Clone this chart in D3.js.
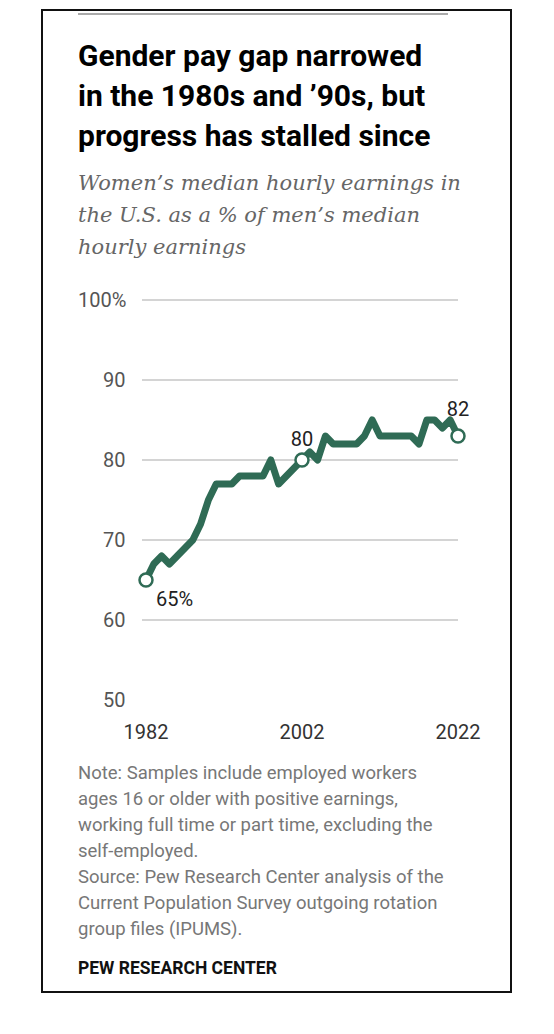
<!DOCTYPE html><html><head><meta charset="utf-8"><script src="https://cdn.jsdelivr.net/npm/d3@7"></script>
<style>body{margin:0;background:#fff}</style></head><body><svg id="c" width="554" height="1034"></svg>
<script>
const years=d3.range(1982,2023);
const values=[65,67,68,67,68,69,70,72,75,77,77,77,78,78,78,78,80,77,78,79,80,81,80,83,82,82,82,82,83,85,83,83,83,83,83,82,85,85,84,85,83];
const yTicks=[50,60,70,80,90,100];
const xTicks=[1982,2002,2022];
const labels=[{year:1982,text:"65%",dx:10,dy:26},{year:2002,text:"80",dx:0,dy:-14},{year:2022,text:"82",dx:0,dy:-20}];
const notes=["Note: Samples include employed workers","ages 16 or older with positive earnings,","working full time or part time, excluding the","self-employed.","Source: Pew Research Center analysis of the","Current Population Survey outgoing rotation","group files (IPUMS)."];
const svg=d3.select("#c");
svg.append("rect").attr("x",42).attr("y",10).attr("width",469).attr("height",982).attr("fill","none").attr("stroke","#111").attr("stroke-width",2);
svg.append("line").attr("x1",78).attr("x2",448).attr("y1",14).attr("y2",14).attr("stroke","#aaa").attr("stroke-width",2);
const t=svg.append("text").attr("font-family","Roboto").attr("font-weight",700).attr("font-size",30).attr("fill","#000");
["Gender pay gap narrowed","in the 1980s and ’90s, but","progress has stalled since"].forEach((s,i)=>t.append("tspan").attr("x",78).attr("y",66+i*40).text(s));
const st=svg.append("text").attr("font-family","DejaVu Serif").attr("font-style","italic").attr("font-size",21).attr("fill","#666");
["Women’s median hourly earnings in","the U.S. as a % of men’s median","hourly earnings"].forEach((s,i)=>st.append("tspan").attr("x",78).attr("y",190+i*32).text(s));
const x=d3.scaleLinear().domain([1982,2022]).range([146,458]);
const y=d3.scaleLinear().domain([50,100]).range([700,300]);
const g=svg.append("g").attr("font-family","Roboto").attr("font-size",20).attr("fill","#555");
yTicks.forEach(v=>{
 if(v>50) g.append("line").attr("x1",142).attr("x2",458).attr("y1",y(v)).attr("y2",y(v)).attr("stroke","#aaa").attr("stroke-width",1.2);
 g.append("text").attr("x",v===100?78:103).attr("y",y(v)+7).attr("fill","#555").text(v===100?"100%":v);
});
xTicks.forEach(v=>g.append("text").attr("x",x(v)).attr("y",739).attr("text-anchor","middle").attr("fill","#333").text(v));
const line=d3.line().x((d,i)=>x(years[i])).y(d=>y(d));
svg.append("path").attr("d",line(values)).attr("fill","none").attr("stroke","#2f6b55").attr("stroke-width",7).attr("stroke-linejoin","round");
labels.forEach(l=>{const v=values[years.indexOf(l.year)];
 svg.append("circle").attr("cx",x(l.year)).attr("cy",y(v)).attr("r",6.5).attr("fill","#fff").attr("stroke","#2f6b55").attr("stroke-width",2.5);
 svg.append("text").attr("x",x(l.year)+l.dx).attr("y",y(v)+l.dy).attr("font-family","Roboto").attr("font-size",20).attr("fill","#222").attr("text-anchor",l.year===1982?"start":"middle").text(l.text);});
notes.forEach((s,i)=>svg.append("text").attr("x",78).attr("y",779+i*26).attr("font-family","Roboto").attr("font-size",18.5).attr("fill","#777").text(s));
svg.append("text").attr("x",78).attr("y",974).attr("font-family","Roboto").attr("font-weight",700).attr("font-size",17.5).attr("fill","#111").text("PEW RESEARCH CENTER");
</script></body></html>
